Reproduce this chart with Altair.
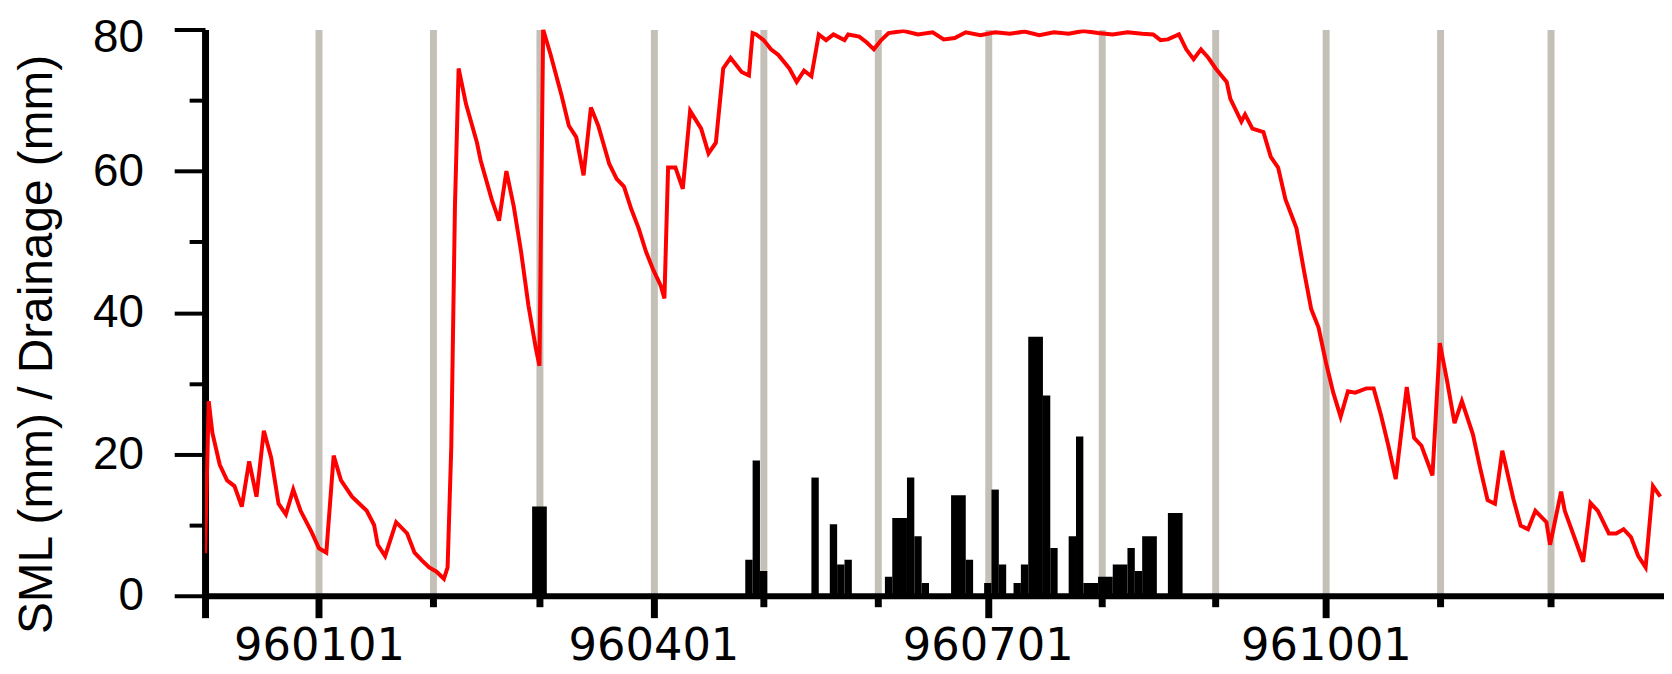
import altair as alt
import pandas as pd

BASE = pd.Timestamp("1995-12-01")

# SML (soil moisture) series: day offset from 1995-12-01 and value (mm)
sml_day = [0, 1, 2, 4, 6, 8, 10, 12, 14, 16, 18, 20, 22, 24, 26, 29, 31, 33, 35, 37,
           40, 42, 44, 46, 47, 49, 52, 55, 57, 59, 61, 63, 65, 66, 67, 68, 69, 71, 74, 75,
           78, 80, 82, 84, 86, 88, 90, 91, 92, 94, 97, 99, 101, 103, 105, 107, 110, 112, 114, 116,
           118, 120, 122, 124, 125, 126, 128, 130, 132, 135, 137, 139, 141, 143, 146, 148, 149, 150, 152, 154,
           156, 159, 161, 163, 165, 167, 169, 171, 174, 175, 178, 180, 182, 184, 186, 190, 194, 198, 201, 204,
           207, 211, 215, 219, 223, 227, 231, 235, 239, 243, 247, 251, 255, 258, 260, 262, 265, 267, 269, 271,
           273, 275, 278, 279, 282, 283, 285, 288, 290, 292, 294, 297, 299, 301, 303, 305, 307, 309, 311, 313,
           316, 318, 320, 322, 324, 327, 329, 331, 334, 336, 338, 340, 342, 345, 347, 349, 351, 353, 356, 358,
           360, 362, 365, 366, 369, 370, 373, 375, 377, 379, 382, 384, 386, 388, 390, 392, 394, 396]
sml_value = [6, 27.5, 23, 18.5, 16.3, 15.5, 12.6, 19, 14, 23.3, 19.5, 13, 11.5, 15, 12, 9, 6.7, 6.1, 19.8, 16.3,
             14, 13, 12, 10, 7.2, 5.6, 10.4, 8.8, 6.1, 5, 4, 3.4, 2.4, 4, 21, 55, 74.5, 69.5, 64, 61.5,
             56, 53, 60, 55, 48.6, 41, 35, 32.5, 80, 76.5, 70.7, 66.4, 64.8, 59.4, 69, 66.4, 61, 58.9, 57.8, 54.6,
             51.9, 48.6, 46, 43.8, 42, 60.5, 60.5, 57.5, 68.5, 66, 62.5, 64, 74.5, 76, 74, 73.5, 79.5, 79.3, 78.5, 77.2,
             76.4, 74.5, 72.6, 74.2, 73.4, 79.3, 78.5, 79.3, 78.5, 79.3, 79, 78.2, 77.2, 78.5, 79.5, 79.8, 79.3, 79.6, 78.6, 78.8,
             79.6, 79.2, 79.6, 79.4, 79.7, 79.2, 79.6, 79.4, 79.8, 79.5, 79.3, 79.6, 79.4, 79.3, 78.5, 78.6, 79.3, 77.2, 75.8, 77.2,
             76, 74.5, 72.6, 70.2, 67, 68, 66, 65.5, 62, 60.5, 56, 51.9, 46, 40.5, 37.9, 33, 28.7, 25.3, 28.9, 28.7,
             29.3, 29.3, 25.5, 21.2, 16.5, 29.5, 22.3, 21.2, 17, 35.7, 30.3, 24.4, 27.5, 22.8, 18, 13.5, 13, 20.5, 13.7, 9.9,
             9.4, 12, 10.4, 7.2, 14.7, 12, 7.7, 4.8, 13.1, 12, 8.8, 8.8, 9.4, 8.3, 5.6, 4, 15.5, 14]

# Drainage bars: start day offset, length in days, value (mm)
drain_start = [89, 147, 149, 151, 165, 170, 172, 174, 185, 187, 191, 193, 195, 203, 207, 212,
               214, 216, 220, 222, 224, 228, 230, 235, 237, 239, 243, 247, 251, 253, 255, 262]
drain_days = [4, 2, 2, 2, 2, 2, 2, 2, 2, 4, 2, 2, 2, 4, 2, 2,
              2, 2, 2, 2, 4, 2, 2, 2, 2, 4, 4, 4, 2, 2, 4, 4]
drain_value = [12.6, 5.1, 19.1, 3.5, 16.7, 10.1, 4.4, 5.1, 2.7, 11.0, 16.7, 8.4, 1.8, 14.2, 5.1, 1.8,
               15.0, 4.4, 1.8, 4.4, 36.6, 28.3, 6.75, 8.4, 22.5, 1.8, 2.7, 4.4, 6.75, 3.5, 8.4, 11.7]

y_ticks = [0, 10, 20, 30, 40, 50, 60, 70, 80]
month_starts = pd.date_range("1995-12-01", "1996-12-01", freq="MS")

sml = pd.DataFrame({
    "date": [BASE + pd.Timedelta(days=d) for d in sml_day],
    "value": sml_value,
})
drain = pd.DataFrame({
    "start": [BASE + pd.Timedelta(days=d) for d in drain_start],
    "end": [BASE + pd.Timedelta(days=d + w) for d, w in zip(drain_start, drain_days)],
    "value": drain_value,
})

tick_values = [alt.DateTime(year=int(t.year), month=int(t.month), date=1) for t in month_starts]

x_scale = alt.Scale(
    domain=[alt.DateTime(year=1995, month=12, date=1), alt.DateTime(year=1997, month=1, date=1)],
    nice=False,
)
y_scale = alt.Scale(domain=[0, 80], nice=False)

x_axis = alt.Axis(
    values=tick_values,
    labelExpr="month(datum.value) % 3 == 0 ? timeFormat(datum.value, '%y%m%d') : ''",
    grid=True, gridColor="#c4c0b8", gridWidth=7, gridOpacity=1,
    domainColor="black", domainWidth=6,
    tickColor="black", tickWidth=7,
    tickSize={"condition": {"test": "month(datum.value) % 3 == 0 || year(datum.value) == 1995", "value": 22},
              "value": 11},
    labelFont="DejaVu Sans", labelFontSize=45, labelColor="black", labelPadding=6,
    labelFlush=False, labelOverlap=False,
    title=None,
)
y_axis = alt.Axis(
    values=y_ticks,
    labelExpr="datum.value % 20 == 0 ? datum.label : ''",
    grid=False,
    domainColor="black", domainWidth=7,
    tickColor="black", tickWidth=4,
    tickSize={"condition": {"test": "datum.value % 20 == 0", "value": 31}, "value": 16},
    labelFont="Liberation Sans", labelFontSize=46, labelColor="black", labelPadding=31,
    labelOffset={"condition": {"test": "datum.value == 80", "value": 8}, "value": 0},
    labelOverlap=False,
    title="SML (mm) / Drainage (mm)",
    titleFont="Liberation Sans", titleFontSize=48, titleFontWeight="normal", titleColor="black",
    titleX=-168, titleY=316, titleAngle=270, titleAlign="center", titleBaseline="middle",
)

bars = alt.Chart(drain).mark_bar(color="black", clip=True, strokeWidth=0).encode(
    x=alt.X("start:T", scale=x_scale, axis=x_axis),
    x2="end:T",
    y=alt.Y("value:Q", scale=y_scale, axis=y_axis),
    y2=alt.datum(0),
)

line = alt.Chart(sml).mark_line(color="#ff0000", strokeWidth=4, clip=True).encode(
    x=alt.X("date:T", scale=x_scale, axis=x_axis),
    y=alt.Y("value:Q", scale=y_scale, axis=y_axis),
)

chart = alt.layer(bars, line).properties(
    width=1466,
    height=569,
    autosize=alt.AutoSizeParams(type="none"),
    padding={"left": 198, "top": 20, "right": 0, "bottom": 77},
    background="white",
).configure_view(stroke=None)

chart.save("out.html", embed_options={"renderer": "svg", "actions": False})
